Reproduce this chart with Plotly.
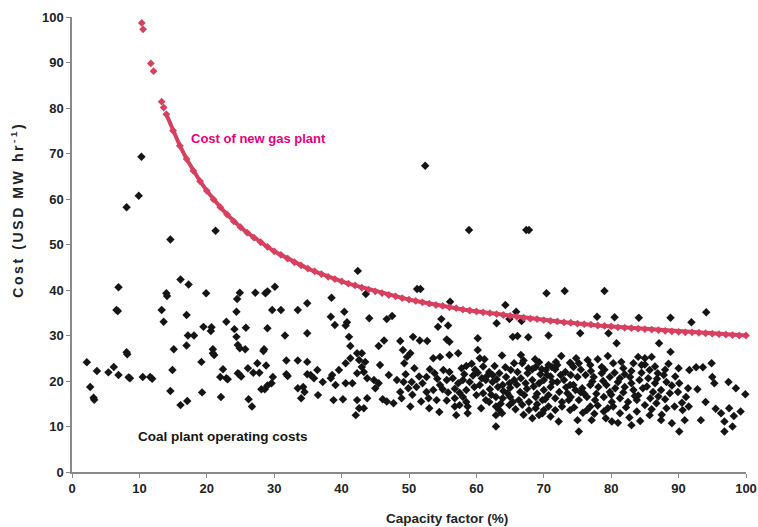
import plotly.graph_objects as go

# ---------------- data ----------------
x_ticks = [0, 10, 20, 30, 40, 50, 60, 70, 80, 90, 100]
y_ticks = [0, 10, 20, 30, 40, 50, 60, 70, 80, 90, 100]

# cost of new gas plant (steep top part, sparse points)
gas_top_x = [10.35, 10.55, 11.7, 12.1, 13.3, 13.6]
gas_top_y = [98.7, 97.3, 89.8, 88.1, 81.4, 80.1]

# cost of new gas plant (continuous band)
gas_x = list(range(14, 101))
gas_y = [78.6, 75.0, 71.7, 68.8, 66.2, 63.9, 61.8, 59.9, 58.2, 56.6,
         55.1, 53.8, 52.6, 51.5, 50.5, 49.5, 48.5, 47.7, 46.9, 46.1,
         45.4, 44.7, 44.1, 43.5, 42.9, 42.4, 41.9, 41.4, 41.0, 40.5,
         40.1, 39.7, 39.3, 38.9, 38.6, 38.2, 37.9, 37.6, 37.3, 37.0,
         36.7, 36.5, 36.2, 36.0, 35.7, 35.5, 35.3, 35.1, 34.9, 34.7,
         34.5, 34.3, 34.1, 33.9, 33.7, 33.6, 33.4, 33.2, 33.1, 32.9,
         32.8, 32.6, 32.5, 32.4, 32.2, 32.1, 32.0, 31.8, 31.7, 31.6,
         31.5, 31.4, 31.3, 31.2, 31.0, 30.9, 30.8, 30.7, 30.7, 30.6,
         30.5, 30.4, 30.3, 30.2, 30.1, 30.0, 30.0]

# coal plant operating costs - low capacity factors, high costs
coal_x_a = [10.3, 8.1, 9.9, 14.6, 21.3, 16.1, 17.3, 6.9, 14.0, 14.1,
            19.9, 24.9, 24.5, 27.2, 28.7, 29.0, 30.1, 6.6, 6.8, 13.3,
            17.0, 13.6, 24.4, 29.7, 31.0, 33.5, 34.9, 19.5, 20.7, 22.9,
            24.1, 25.8, 29.0]
coal_y_a = [69.3, 58.2, 60.7, 51.1, 53.0, 42.3, 41.2, 40.6, 39.3, 38.7,
            39.3, 39.4, 38.0, 39.4, 39.3, 39.7, 40.7, 35.6, 35.4, 35.6,
            34.5, 33.0, 35.2, 35.6, 35.6, 35.6, 37.1, 31.9, 31.8, 33.0,
            31.4, 31.7, 31.6]

# coal - low capacity factors, lower costs
coal_x_b = [20.6, 24.4, 31.6, 34.9, 17.2, 18.1, 17.0, 15.1, 8.1, 8.2,
            20.9, 20.9, 21.1, 24.6, 24.9, 25.7, 28.5, 28.4, 2.2, 19.2,
            31.8, 33.5, 34.9, 3.7, 5.4, 6.2, 6.9, 8.4, 8.6, 10.5,
            11.6, 11.9, 14.9, 22.4, 22.0, 22.9, 23.1, 24.6, 24.8, 25.1,
            26.1, 26.9, 27.5, 27.8, 28.8, 29.8, 29.6, 28.1, 28.6, 29.0,
            32.0, 31.8, 33.5, 34.3, 34.0, 34.5, 34.9, 2.7, 3.2, 3.3,
            14.6, 16.1, 17.1, 19.3, 22.1, 26.2, 26.7]
coal_y_b = [31.0, 29.7, 30.0, 30.5, 30.0, 30.0, 27.8, 27.0, 26.3, 25.9,
            27.0, 26.1, 25.7, 27.9, 27.2, 27.0, 27.0, 26.6, 24.1, 24.2,
            24.5, 24.5, 24.2, 22.2, 21.9, 23.1, 21.3, 20.8, 20.6, 20.9,
            20.9, 20.5, 22.4, 22.6, 20.9, 20.6, 20.4, 21.7, 21.5, 21.0,
            22.8, 21.8, 23.9, 21.8, 23.4, 20.9, 19.5, 18.2, 18.2, 19.0,
            21.1, 21.5, 18.4, 18.7, 16.2, 17.6, 21.5, 18.7, 16.3, 15.9,
            17.8, 14.7, 15.6, 17.5, 16.5, 16.0, 14.4]

# coal - mid/high capacity factors, high costs
coal_x_c = [52.4, 58.9, 67.4, 67.8, 42.4, 51.2, 51.7, 43.6, 56.1, 64.3,
            65.9, 38.5, 38.4, 40.4, 39.0, 40.8, 40.6, 44.1, 46.7, 47.5,
            54.8, 54.3, 55.8, 63.0, 64.9, 66.7, 70.4, 73.1, 79.0, 77.9,
            80.5, 84.1, 88.8, 91.9, 94.1]
coal_y_c = [67.3, 53.2, 53.2, 53.2, 44.2, 40.2, 40.2, 39.1, 37.4, 36.7,
            35.2, 38.3, 34.1, 35.2, 32.3, 32.9, 32.2, 33.8, 33.6, 34.3,
            33.6, 31.9, 32.2, 32.7, 33.6, 33.2, 39.3, 39.8, 39.8, 34.1,
            34.0, 33.9, 33.9, 32.9, 35.1]

# coal - capacity factor 35-48 %
coal_x_d = [41.1, 41.3, 45.5, 46.3, 42.3, 43.0, 42.6, 43.5, 41.3, 40.6,
            39.6, 38.6, 38.4, 37.2, 35.4, 36.4, 35.9, 36.5, 38.8, 40.2,
            39.1, 40.6, 41.6, 42.3, 43.3, 43.8, 43.0, 45.7, 47.0, 45.5,
            42.3, 43.8, 42.6, 43.3, 42.1, 46.1, 46.7, 47.7, 44.8, 45.0]
coal_y_d = [29.7, 27.7, 27.7, 28.9, 26.1, 26.1, 24.6, 24.2, 25.0, 23.9,
            22.4, 21.3, 20.6, 19.8, 21.3, 22.4, 20.6, 16.9, 15.8, 16.0,
            19.1, 19.5, 19.5, 21.7, 22.0, 20.6, 23.1, 23.5, 21.3, 19.5,
            15.8, 16.2, 14.0, 14.0, 12.5, 16.0, 15.5, 15.1, 20.2, 18.4]

# coal - capacity factor 48-75 %
coal_x_e = [50.6, 51.6, 52.7, 55.6, 56.0, 60.2, 65.4, 66.1, 67.7, 70.7,
            48.7, 49.1, 50.2, 49.7, 49.3, 53.6, 54.6, 56.0, 57.3, 60.2,
            60.5, 61.2, 63.8, 66.6, 66.8, 65.6, 68.8, 69.3, 70.7, 71.2,
            72.6, 73.9, 74.4, 58.5, 57.8, 53.1, 53.8, 55.1, 56.0, 52.6,
            61.9, 62.4, 63.4, 64.4, 65.1, 66.1, 67.6, 68.3, 70.3, 71.7,
            73.2, 48.2, 49.2, 50.4, 51.1, 49.9, 48.7, 52.6, 53.6, 54.6,
            55.6, 56.5, 57.3, 58.0, 59.0, 59.7, 60.5, 61.4, 62.4, 63.2,
            63.9, 64.9, 65.6, 66.6, 67.3, 68.3, 69.3, 70.0, 71.0, 72.0,
            73.0, 73.9, 74.7, 52.9, 54.1, 55.6, 56.8, 58.0, 58.5, 60.0,
            61.0, 61.4, 61.9, 62.9, 63.9, 64.6, 65.4, 66.3, 67.1, 67.8,
            68.8, 69.8, 70.7, 71.7, 72.7, 73.7, 48.9, 50.2, 56.8, 57.5,
            58.7, 60.7, 62.9, 63.4, 64.9, 67.8, 68.8, 70.0, 70.7, 71.7,
            72.7, 73.9, 57.0, 58.7, 62.9, 63.8, 68.3, 69.3, 71.0, 72.2,
            62.9, 69.8,
            61.5, 62.0, 63.0, 64.0, 65.0, 66.0, 66.5, 67.5, 68.5, 69.0,
            70.0, 71.0, 72.5, 73.5, 59.5, 60.8, 58.5, 57.5, 55.0, 54.2,
            64.3, 67.0, 71.8, 69.5, 62.7, 59.8,
            49.5, 50.8, 51.5, 52.0, 50.5, 51.8, 53.0, 54.5, 55.8, 56.8,
            58.2, 59.3, 60.2, 61.0, 62.2, 63.6, 65.0, 65.8, 66.8, 67.7,
            68.7, 69.7, 70.5, 71.3, 72.3, 73.3, 72.0, 70.2, 69.0, 67.0]
coal_y_e = [29.7, 28.9, 28.8, 29.1, 28.6, 29.4, 29.7, 29.9, 29.6, 30.0,
            28.8, 26.8, 26.1, 25.3, 23.9, 25.0, 25.3, 25.7, 26.1, 26.8,
            25.0, 24.8, 25.6, 25.7, 23.9, 23.9, 23.1, 24.1, 23.5, 23.1,
            25.5, 24.0, 23.1, 23.3, 22.8, 22.6, 21.7, 22.4, 22.0, 20.9,
            22.0, 21.3, 21.7, 20.9, 22.4, 22.0, 21.7, 22.6, 22.4, 22.6,
            22.0, 20.2, 19.8, 19.8, 18.7, 18.4, 17.6, 17.6, 18.0, 19.1,
            20.2, 20.6, 19.5, 20.2, 19.8, 18.7, 19.1, 20.2, 19.8, 18.7,
            19.1, 19.5, 20.2, 20.6, 19.5, 20.2, 19.5, 20.2, 18.7, 19.8,
            20.2, 19.1, 18.0, 16.2, 15.8, 15.7, 16.2, 16.5, 15.4, 16.9,
            17.3, 15.8, 15.4, 16.5, 16.2, 17.3, 15.4, 15.8, 16.9, 15.4,
            16.5, 15.8, 16.9, 16.2, 15.4, 15.8, 16.2, 14.4, 14.4, 14.7,
            14.4, 14.0, 14.4, 13.6, 14.7, 13.6, 14.0, 13.6, 14.4, 13.6,
            14.4, 13.6, 12.5, 12.9, 12.5, 12.9, 11.8, 12.5, 12.2, 11.1,
            10.0, 12.9,
            21.0, 18.2, 20.4, 17.8, 18.5, 19.2, 17.6, 18.3, 18.8, 17.2,
            18.0, 21.0, 21.3, 17.3, 21.2, 20.6, 18.0, 17.4, 18.2, 20.5,
            23.0, 24.5, 24.2, 21.5, 23.3, 22.5,
            21.5, 22.8, 21.0, 19.5, 17.0, 15.5, 14.0, 13.2, 17.5, 18.3,
            21.5, 23.8, 21.8, 23.2, 17.0, 15.0, 16.5, 13.8, 14.8, 22.8,
            24.8, 22.6, 21.3, 19.8, 17.6, 18.6, 23.5, 16.0, 14.9, 12.6]

# coal - capacity factor 74-100 %
coal_x_f = [75.4, 79.6, 80.8, 87.1, 88.8, 74.0, 75.2, 76.9, 78.6, 80.3,
            81.8, 84.0, 85.0, 86.0, 83.3, 84.5, 85.7, 86.9, 87.8, 91.6,
            92.6, 93.6, 94.9, 95.0, 95.3, 97.4, 98.5, 99.9, 74.0, 75.0,
            76.2, 77.4, 78.6, 79.8, 81.3, 82.8, 84.2, 85.5, 86.5, 88.2,
            90.1, 91.4, 92.8, 74.4, 75.7, 76.9, 78.1, 79.3, 80.6, 82.0,
            83.3, 84.7, 86.2, 87.4, 88.7, 89.9, 91.1, 74.0, 75.2, 76.4,
            77.6, 78.9, 80.1, 81.3, 82.5, 83.8, 85.0, 86.7, 88.2, 89.4,
            90.6, 94.0, 95.5, 96.3, 97.5, 98.2, 99.2, 75.0, 77.1, 80.1,
            83.0, 87.4, 89.0, 90.9, 93.3, 96.8, 98.0, 75.2, 90.1, 96.8,
            76.4, 78.9, 81.3, 83.8, 85.7, 76.9, 80.3,
            75.5, 77.0, 79.0, 80.5, 82.0, 77.8, 79.8, 81.0, 83.0, 84.5,
            76.0, 78.0, 79.5, 82.2, 84.0, 85.8, 87.0, 88.0, 89.5, 90.5,
            74.8, 76.5, 78.0, 79.5, 81.5, 83.0, 85.0, 86.5, 88.5, 90.0,
            75.5, 77.2, 78.8, 80.0, 81.8, 83.5, 85.3, 86.8, 88.0, 89.0,
            74.5, 75.8, 77.5, 79.2, 81.0, 82.7, 84.3, 86.0, 87.5, 91.5]
coal_y_f = [30.5, 30.5, 28.3, 28.3, 26.4, 23.9, 23.9, 23.5, 23.1, 23.9,
            22.8, 25.3, 25.0, 25.3, 23.9, 23.5, 22.4, 21.7, 21.3, 22.4,
            23.0, 23.0, 23.9, 20.9, 19.5, 19.8, 18.4, 17.1, 21.3, 20.9,
            21.3, 20.9, 21.7, 20.9, 20.6, 20.9, 20.2, 20.6, 19.5, 19.8,
            19.5, 18.4, 18.2, 19.1, 18.4, 19.1, 18.7, 19.1, 18.4, 18.7,
            18.0, 18.4, 17.6, 18.0, 17.3, 17.6, 16.5, 16.5, 15.8, 16.5,
            15.8, 16.5, 15.4, 16.2, 15.4, 15.8, 14.7, 15.1, 14.0, 14.4,
            13.6, 15.4, 13.9, 12.9, 14.0, 12.3, 13.3, 11.4, 11.4, 11.1,
            10.3, 11.4, 10.7, 11.4, 11.4, 11.1, 10.0, 8.9, 8.9, 8.9,
            13.6, 13.3, 12.9, 13.3, 12.5, 14.4, 14.4,
            22.5, 22.2, 22.5, 21.8, 21.5, 17.2, 17.6, 19.8, 19.5, 21.8,
            17.2, 14.6, 14.0, 14.2, 16.8, 16.2, 16.6, 22.5, 21.0, 15.2,
            25.0, 24.6, 24.8, 25.5, 24.2, 22.2, 23.6, 23.2, 23.8, 22.8,
            17.5, 19.9, 20.0, 17.0, 17.5, 16.7, 18.8, 20.5, 16.0, 19.0,
            14.2, 13.0, 12.8, 11.8, 10.8, 12.0, 11.2, 13.8, 12.6, 14.4]

coal_x = coal_x_a + coal_x_b + coal_x_c + coal_x_d + coal_x_e + coal_x_f
coal_y = coal_y_a + coal_y_b + coal_y_c + coal_y_d + coal_y_e + coal_y_f

# ---------------- styles ----------------
FONT = "Liberation Sans, Arial, sans-serif"
GAS_COLOR = "#d8405f"
COAL_COLOR = "#151515"
AXIS_COLOR = "#8a8a8a"

fig = go.Figure()

fig.add_trace(go.Scatter(
    x=coal_x, y=coal_y, mode="markers",
    marker=dict(symbol="diamond", size=6.5, color=COAL_COLOR),
    cliponaxis=False, showlegend=False, hoverinfo="x+y"))

fig.add_trace(go.Scatter(
    x=gas_x, y=gas_y, mode="lines+markers",
    line=dict(color=GAS_COLOR, width=4),
    marker=dict(symbol="diamond", size=6, color=GAS_COLOR),
    cliponaxis=False, showlegend=False, hoverinfo="x+y"))

fig.add_trace(go.Scatter(
    x=gas_top_x, y=gas_top_y, mode="markers",
    marker=dict(symbol="diamond", size=6, color=GAS_COLOR),
    cliponaxis=False, showlegend=False, hoverinfo="x+y"))

axis_common = dict(
    range=[0, 100], showline=True, linecolor=AXIS_COLOR, linewidth=1.5,
    ticks="outside", ticklen=4, tickwidth=1.2, tickcolor=AXIS_COLOR,
    showgrid=False, zeroline=False, ticklabeloverflow="allow",
    automargin=False,
    tickfont=dict(family=FONT, size=13, color="#222222", weight="bold"),
)

fig.update_layout(
    width=758, height=527,
    margin=dict(l=72, r=12, t=17, b=55),
    paper_bgcolor="white", plot_bgcolor="white",
    font=dict(family=FONT, color="#222222"),
    xaxis=dict(tickvals=x_ticks, **axis_common),
    yaxis=dict(tickvals=y_ticks, **axis_common),
    annotations=[
        dict(x=17.3, y=73.4, xref="x", yref="y", xanchor="left", yanchor="middle",
             text="<b>Cost of new gas plant</b>", showarrow=False,
             font=dict(family=FONT, size=13, color="#e6007e")),
        dict(x=9.5, y=7.7, xref="x", yref="y", xanchor="left", yanchor="middle",
             text="<b>Coal plant operating costs</b>", showarrow=False,
             font=dict(family=FONT, size=13.5, color="#151515")),
        dict(x=0.556, y=-0.103, xref="paper", yref="paper", xanchor="center",
             yanchor="middle", text="<b>Capacity factor (%)</b>", showarrow=False,
             font=dict(family=FONT, size=13.5, color="#222222")),
        dict(x=-0.0816, y=0.575, xref="paper", yref="paper", xanchor="center",
             yanchor="middle", textangle=-90,
             text="<b>Cost (USD MW hr<sup>-1</sup>)</b>", showarrow=False,
             font=dict(family=FONT, size=14, color="#222222")),
    ],
)

post = """
document.body.style.margin = '0';
document.body.style.padding = '0';
document.querySelectorAll('text.annotation-text').forEach(function (t) {
  if (t.textContent.indexOf('Cost (USD') === 0) {
    t.style.letterSpacing = '2.6px';
  }
});
"""

fig.write_html("out.html", post_script=post, config={"displayModeBar": False})
